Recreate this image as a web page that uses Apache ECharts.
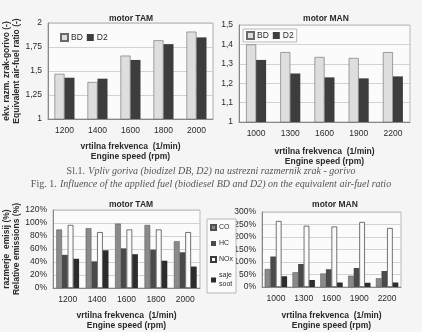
<!DOCTYPE html>
<html><head><meta charset="utf-8">
<script src="https://cdn.jsdelivr.net/npm/echarts@6/dist/echarts.min.js"></script>
<style>html,body{margin:0;padding:0;background:#f5f5f5}#c{width:422px;height:332px}</style>
</head><body><div id="c"></div>
<script>
// ---- data ----
var tamSpeeds = ['1200','1400','1600','1800','2000'];
var manSpeeds = ['1000','1300','1600','1900','2200'];
var tamBD = [1.47, 1.385, 1.66, 1.82, 1.91];
var tamD2 = [1.43, 1.42, 1.615, 1.78, 1.85];
var manBD = [1.40, 1.36, 1.335, 1.33, 1.36];
var manD2 = [1.32, 1.25, 1.23, 1.225, 1.235];
var tamCO  = [90, 92, 99, 97, 72];
var tamHC  = [51, 41, 61, 59, 55];
var tamNOx = [97, 86, 90, 90, 86];
var tamSoot= [45, 58, 52, 42, 33];
var manCO  = [72, 59, 54, 45, 35];
var manHC  = [122, 92, 71, 76, 64];
var manNOx = [264, 245, 242, 260, 236];
var manSoot= [43, 28, 18, 17, 18];

var F = 'Liberation Sans, Arial, sans-serif';
var txt = '#2a2a2a';
function comma(v){ return String(+v.toFixed(2)).replace('.', ','); }
function pct(v){ return v + '%'; }
function xAx(i, data, nameTop){
  return {gridIndex:i, type:'category', data:data,
    axisLine:{lineStyle:{color:'#888'}}, axisTick:{show:false},
    axisLabel:{color:txt, fontFamily:F, fontSize:8.5, margin:7},
    name:'vrtilna frekvenca  (1/min)\nEngine speed (rpm)', nameLocation:'middle', nameGap:nameTop,
    nameTextStyle:{color:txt, fontFamily:F, fontSize:8.5, fontWeight:'bold', lineHeight:10.5}};
}
function yAx(i, min, max, interval, fmt, name, gap){
  return {gridIndex:i, type:'value', min:min, max:max, interval:interval,
    axisLine:{show:true, lineStyle:{color:'#888'}}, axisTick:{show:false},
    splitLine:{lineStyle:{color:'#c8c8c8', width:0.8}},
    axisLabel:{color:txt, fontFamily:F, fontSize:8.5, formatter:fmt, margin:6},
    name:name, nameLocation:'middle', nameRotate:90, nameGap:gap,
    nameTextStyle:{color:txt, fontFamily:F, fontSize:8.5, fontWeight:'bold', lineHeight:10}};
}
var BDc = {color:'#dedede', borderColor:'#6a6a6a', borderWidth:0.6};
var D2c = {color:'#3d3d3d'};
var COc = {color:'#8a8a8a', borderColor:'#505050', borderWidth:0.5};
var HCc = {color:'#4a4a4a'};
var NOc = {color:'#fafafa', borderColor:'#3a3a3a', borderWidth:0.7};
var SOc = {color:'#2c2c2c'};
function bar(name, x, y, data, style, w){
  return {name:name, type:'bar', xAxisIndex:x, yAxisIndex:y, data:data, itemStyle:style,
    barWidth:w, barGap:'0%', silent:true};
}
var chart = echarts.init(document.getElementById('c'), null, {renderer:'canvas'});
chart.setOption({
  animation:false,
  backgroundColor:'#f5f5f5',
  title:[
    {text:'motor TAM', left:126, top:9, textAlign:'center', textStyle:{fontFamily:F, fontSize:8.5, fontWeight:'bold', color:txt}},
    {text:'motor MAN', left:321, top:9, textAlign:'center', textStyle:{fontFamily:F, fontSize:8.5, fontWeight:'bold', color:txt}},
    {text:'motor TAM', left:126, top:195, textAlign:'center', textStyle:{fontFamily:F, fontSize:8.5, fontWeight:'bold', color:txt}},
    {text:'motor MAN', left:330, top:195, textAlign:'center', textStyle:{fontFamily:F, fontSize:8.5, fontWeight:'bold', color:txt}}
  ],
  grid:[
    {left:48, top:23, width:165, height:96, show:true, backgroundColor:'#fbfbfb', borderColor:'#999', borderWidth:0.8},
    {left:239, top:25, width:171, height:97, show:true, backgroundColor:'#fbfbfb', borderColor:'#aaa', borderWidth:0.8},
    {left:53, top:210, width:147, height:86, show:true, backgroundColor:'#fbfbfb', borderColor:'#aaa', borderWidth:0.8},
    {left:262, top:212, width:139, height:83, show:true, backgroundColor:'#fbfbfb', borderColor:'#aaa', borderWidth:0.8}
  ],
  xAxis:[xAx(0, tamSpeeds, 22), xAx(1, manSpeeds, 24), xAx(2, tamSpeeds, 22), xAx(3, manSpeeds, 23)],
  yAxis:[
    yAx(0, 1, 2, 0.25, comma, 'ekv. razm. zrak-gorivo (-)\nEquivalent air-fuel ratio (-)', 21),
    yAx(1, 1, 1.5, 0.1, comma, '', 20),
    yAx(2, 0, 120, 20, pct, 'razmerje  emisij (%)\nRelative emissions (%)', 24),
    yAx(3, 0, 300, 50, pct, '', 30)
  ],
  legend:[
    {data:['BD','D2'], left:57, top:31, orient:'horizontal', itemWidth:7, itemHeight:7, itemGap:4,
     backgroundColor:'#fbfbfb', padding:[2,3], textStyle:{fontFamily:F, fontSize:8.5, color:txt, padding:[0,0,0,-2]}, selectedMode:false, icon:'rect'},
    {data:['BD','D2'], left:243, top:29, orient:'horizontal', itemWidth:7, itemHeight:7, itemGap:4,
     borderColor:'#aaa', borderWidth:0.8, backgroundColor:'#fbfbfb', padding:[2,3], textStyle:{fontFamily:F, fontSize:8.5, color:txt, padding:[0,0,0,-2]}, selectedMode:false, icon:'rect'},
    {data:['CO','HC','NOx','saje\nsoot'], left:207, top:219, orient:'vertical', itemWidth:5, itemHeight:5, itemGap:7,
     borderColor:'#aaa', borderWidth:0.8, backgroundColor:'#fbfbfb', padding:[4,3], textStyle:{fontFamily:F, fontSize:7, color:txt, lineHeight:9, padding:[0,0,0,-2]}, selectedMode:false, icon:'rect'}
  ],
  series:[
    bar('BD', 0, 0, tamBD, BDc, 10), bar('D2', 0, 0, tamD2, D2c, 10),
    bar('BD', 1, 1, manBD, BDc, 10), bar('D2', 1, 1, manD2, D2c, 10),
    bar('CO', 2, 2, tamCO, COc, 5.7), bar('HC', 2, 2, tamHC, HCc, 5.7), bar('NOx', 2, 2, tamNOx, NOc, 5.7), bar('saje\nsoot', 2, 2, tamSoot, SOc, 5.7),
    bar('CO', 3, 3, manCO, COc, 5.6), bar('HC', 3, 3, manHC, HCc, 5.6), bar('NOx', 3, 3, manNOx, NOc, 5.6), bar('saje\nsoot', 3, 3, manSoot, SOc, 5.6)
  ],
  graphic:[
    {type:'text', left:'center', top:165, style:{text:'{n|Sl.1.} {i|Vpliv goriva (biodizel DB, D2) na ustrezni razmernik zrak - gorivo}',
      rich:{n:{fontFamily:'Liberation Serif, serif', fontSize:10, fill:'#555'}, i:{fontFamily:'Liberation Serif, serif', fontStyle:'italic', fontSize:10, fill:'#555'}}}},
    {type:'text', left:'center', top:178, style:{text:'{n|Fig. 1.} {i|Influence of the applied fuel (biodiesel BD and D2) on the equivalent air-fuel ratio}',
      rich:{n:{fontFamily:'Liberation Serif, serif', fontSize:10, fill:'#555'}, i:{fontFamily:'Liberation Serif, serif', fontStyle:'italic', fontSize:10, fill:'#555'}}}}
  ]
});
</script></body></html>
